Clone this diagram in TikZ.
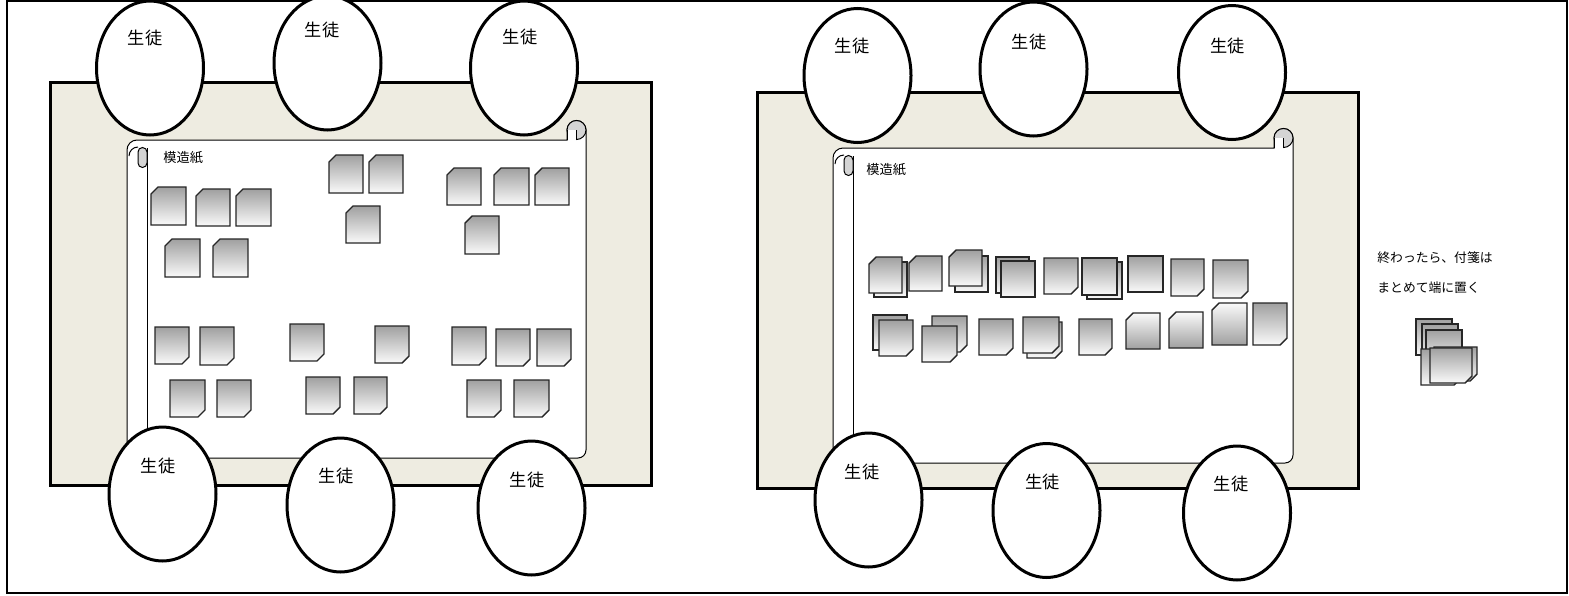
\documentclass[tikz,border=0pt]{standalone}
\usepackage{fontspec}
\newfontfamily\cjk{Noto Sans CJK JP}
\usetikzlibrary{shapes.geometric}
\definecolor{tablebg}{HTML}{EEECE1}
\definecolor{curlgray}{HTML}{D4D4D4}
\definecolor{ngray}{HTML}{A0A0A0}
\definecolor{nwhite}{HTML}{FAFAFA}
\newcommand{\fA}[4]{\path[fusen,top color=ngray,bottom color=nwhite] ({#1+7},#2) -- ({#1+#3},#2) -- ({#1+#3},{#2+#4}) -- (#1,{#2+#4}) -- (#1,{#2+7}) -- cycle;}
\newcommand{\fB}[4]{\path[fusen,top color=ngray,bottom color=nwhite] (#1,#2) -- ({#1+#3},#2) -- ({#1+#3},{#2+#4-7}) -- ({#1+#3-7},{#2+#4}) -- (#1,{#2+#4}) -- cycle;}
\newcommand{\fC}[4]{\path[fusen,top color=nwhite,bottom color=ngray] (#1,#2) -- ({#1+#3},#2) -- ({#1+#3},{#2+#4-7}) -- ({#1+#3-7},{#2+#4}) -- (#1,{#2+#4}) -- cycle;}
\newcommand{\fD}[4]{\path[fusen,top color=nwhite,bottom color=ngray] ({#1+7},#2) -- ({#1+#3},#2) -- ({#1+#3},{#2+#4}) -- (#1,{#2+#4}) -- (#1,{#2+7}) -- cycle;}
\newcommand{\fE}[4]{\path[fusen,top color=ngray,bottom color=nwhite] (#1,#2) rectangle ({#1+#3},{#2+#4});}
% scroll: x y w h  (y axis points down)
\newcommand{\scrollshape}[4]{%
\begin{scope}[shift={(#1,#2)}]
\path[scrollline,fill=white] (0,10) arc (180:270:10) -- ({#3-19},0) -- ({#3-19},-10) arc (180:360:9.5) -- (#3,{#4-8}) arc (0:90:8) -- (10,#4) arc (90:180:10) -- cycle;
\path[scrollline,fill=curlgray] ({#3-9.5},-10) circle (9.5);
\path[fill=white] ({#3-19},-10) rectangle ({#3-10},0);
\path[scrollline] ({#3-19},-10) -- ({#3-19},0);
\path[scrollline] ({#3-10},-10) -- ({#3-10},0);
\path[scrollline] (20,8) -- (20,#4);
\path[scrollline,fill=curlgray] (20,23) -- (20,12) arc (0:-180:4.5) -- (11,23) arc (180:0:4.5);
\path[scrollline] (2,16) arc (180:270:9);
\end{scope}}
\begin{document}
\begin{tikzpicture}[x=0.5pt,y=-0.5pt,
  tablebox/.style={draw=black,line width=1.5pt,fill=tablebg},
  student/.style={ellipse,draw=black,line width=1.5pt,fill=white,minimum width=53.5pt,minimum height=67pt,inner sep=0pt},
  stext/.style={font=\cjk\fontsize{8.6pt}{10pt}\selectfont,inner sep=0pt},
  ptext/.style={font=\cjk\fontsize{6.6pt}{7.9pt}\selectfont,inner sep=0pt},
  fusen/.style={draw=black!85,line width=0.7pt},
  scrollline/.style={draw=black,line width=0.5pt}]
\useasboundingbox (0,0) rectangle (1569,595);
\fill[white] (0,0) rectangle (1569,595);
\draw[line width=0.75pt] (7,1) rectangle (1567,593);
% tables
\path[tablebox] (50,82) rectangle (651,485);
\path[tablebox] (757,92) rectangle (1358,488);
% scrolls
\scrollshape{127}{140}{459}{318}
\scrollshape{833}{148}{460}{315}
\node[ptext,anchor=west] (lbl1) at (163,158) {模造紙};
\node[ptext,anchor=west] (lbl2) at (866,170) {模造紙};
% left scroll notes
\fA{151}{187}{35}{38}\fA{196}{189}{34}{37}\fA{236}{189}{35}{37}
\fA{165}{239}{35}{38}\fA{213}{239}{35}{38}
\fA{329}{155}{34}{38}\fA{369}{155}{34}{38}\fA{346}{206}{34}{37}
\fA{447}{168}{34}{37}\fA{494}{168}{35}{37}\fA{535}{168}{34}{37}\fA{465}{216}{34}{38}
\fB{155}{327}{34}{37}\fB{200}{327}{34}{38}\fB{170}{380}{35}{37}\fB{217}{380}{34}{37}
\fB{290}{324}{34}{37}\fB{375}{326}{34}{37}\fB{306}{377}{34}{37}\fB{354}{377}{33}{37}
\fB{452}{327}{34}{38}\fB{496}{329}{34}{37}\fB{537}{329}{34}{37}\fB{467}{380}{34}{37}\fB{514}{380}{35}{37}
% right scroll notes row 1
\fE{874}{262}{33}{35}\fA{869}{257}{33}{36}
\fA{909}{256}{33}{35}
\fE{955}{256}{33}{36}\fA{949}{250}{33}{36}
\fE{996}{257}{33}{36}\fE{1001}{261}{34}{36}
\fB{1044}{258}{34}{36}
\fE{1087}{262}{35}{37}\fE{1082}{258}{35}{37}
\fE{1128}{256}{35}{36}
\fB{1171}{259}{33}{37}
\fB{1213}{260}{35}{38}
% row 2
\fE{873}{315}{34}{35}\fB{879}{320}{34}{36}
\fB{932}{316}{35}{36}\fB{922}{326}{35}{36}
\fB{979}{319}{34}{36}
\fB{1027}{322}{35}{36}\fB{1023}{317}{36}{36}
\fB{1079}{319}{33}{36}
\fD{1126}{313}{34}{36}
\fD{1169}{312}{34}{36}
\fD{1212}{303}{35}{42}
\fB{1253}{303}{34}{42}
% stack
\fE{1416}{319}{36}{36}
\fE{1422}{324}{36}{36}
\fE{1426}{330}{36}{36}
\fB{1421}{349}{40}{36}
\fB{1434}{347}{43}{34}
\fB{1430}{348}{42}{35}
% students
\node[student] (lt1) at (150,68) {};
\node[student] (lt2) at (327.5,63) {};
\node[student] (lt3) at (524,68) {};
\node[student] (lb1) at (162.5,494) {};
\node[student] (lb2) at (340.5,505) {};
\node[student] (lb3) at (531.5,508) {};
\node[student] (rt1) at (857.5,75.5) {};
\node[student] (rt2) at (1033.5,69) {};
\node[student] (rt3) at (1232,72.5) {};
\node[student] (rb1) at (868.5,500) {};
\node[student] (rb2) at (1046.5,510.5) {};
\node[student] (rb3) at (1237,513) {};
\node[stext] (lt1t) at (145,38) {生徒};
\node[stext] (lt2t) at (322,30) {生徒};
\node[stext] (lt3t) at (520,37) {生徒};
\node[stext] (lb1t) at (158,466) {生徒};
\node[stext] (lb2t) at (336,476) {生徒};
\node[stext] (lb3t) at (527,480) {生徒};
\node[stext] (rt1t) at (852,46) {生徒};
\node[stext] (rt2t) at (1029,42) {生徒};
\node[stext] (rt3t) at (1227.5,46) {生徒};
\node[stext] (rb1t) at (862,472) {生徒};
\node[stext] (rb2t) at (1042.5,482) {生徒};
\node[stext] (rb3t) at (1231,484) {生徒};
\node[ptext,anchor=west,align=left,font=\cjk\fontsize{6.4pt}{15pt}\selectfont] (note) at (1377,273) {終わったら、付箋は\\まとめて端に置く};
\end{tikzpicture}
\end{document}
